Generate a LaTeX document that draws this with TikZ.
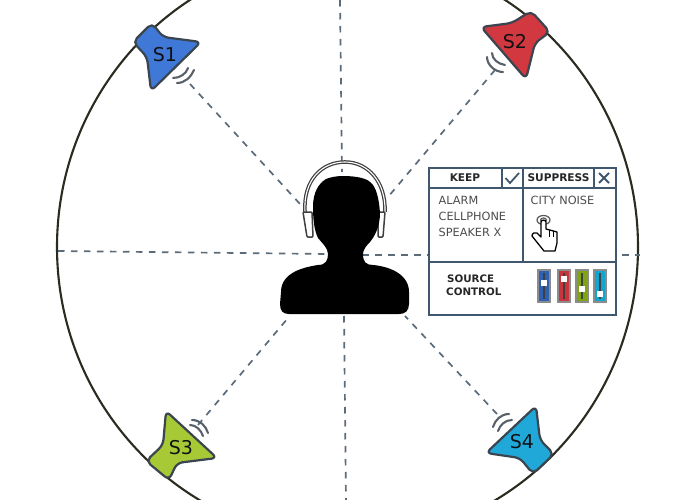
\documentclass[tikz,border=0pt]{standalone}
\usepackage{fontspec}
\setmainfont{DejaVu Sans}
\usepackage{xcolor}
\usetikzlibrary{arrows.meta,calc,positioning}
\definecolor{Slate}{HTML}{3F5870}
\definecolor{Ink}{HTML}{3A4550}
\definecolor{DashGray}{HTML}{5C6B7A}
\definecolor{Rim}{HTML}{2B2B20}
\definecolor{SOne}{HTML}{3F78D6}
\definecolor{STwo}{HTML}{D2383F}
\definecolor{SThree}{HTML}{A6C935}
\definecolor{SFour}{HTML}{1FA8D8}
\definecolor{BarBlue}{HTML}{2F62B0}
\definecolor{BarRed}{HTML}{C8353C}
\definecolor{BarGreen}{HTML}{7FA512}
\definecolor{BarCyan}{HTML}{12A5CF}

\begin{document}
\begin{tikzpicture}[
  x=1pt,y=-1pt,
  rim/.style={draw=Rim,line width=2.1pt},
  guide/.style={draw=DashGray,line width=1.7pt,dash pattern=on 6.5pt off 6.5pt},
  speaker/.style={draw=Ink,line width=2.2pt,rounded corners=5.5pt,line join=round},
  wave/.style={draw=Ink!85,line width=2.1pt,line cap=round},
  sname/.style={font=\fontsize{19}{19}\selectfont,text=black!75!Ink,inner sep=0pt},
  panel/.style={draw=Slate,line width=1.8pt},
  head/.style={font=\bfseries\fontsize{10.6}{11}\selectfont,text=black!85,inner sep=0pt},
  item/.style={font=\fontsize{11.3}{12}\selectfont,text=black!70,inner sep=0pt,anchor=west},
  ctrl/.style={font=\bfseries\fontsize{10.3}{11}\selectfont,text=black!85,inner sep=0pt,anchor=west},
  knob/.style={fill=white,draw=none,minimum width=5.5pt,minimum height=6.5pt,inner sep=0pt}
]
\useasboundingbox (0,0) rectangle (680,500);
\clip (0,0) rectangle (680,500);
\fill[white] (0,0) rectangle (680,500);

% outer ring
\draw[rim] (347.5,247) ellipse (290.5 and 294);

% guide lines
\coordinate (topend) at (340,0);
\coordinate (topin) at (342,172);
\coordinate (botin) at (344,316);
\coordinate (botend) at (346,500);
\coordinate (leftend) at (58,251);
\coordinate (leftin) at (328,254);
\coordinate (rightin) at (362,255);
\coordinate (rightend) at (640,255);
\draw[guide] (topend)--(topin);
\draw[guide] (botin)--(botend);
\draw[guide] (leftend)--(leftin);
\draw[guide] (rightin)--(rightend);

\coordinate (oneout) at (190,84);
\coordinate (onein) at (300,204);
\coordinate (twoout) at (495,70);
\coordinate (twoin) at (388,197);
\coordinate (threeout) at (198,425);
\coordinate (threein) at (288,318);
\coordinate (fourout) at (497,414);
\coordinate (fourin) at (405,316);
\draw[guide] (oneout)--(onein);
\draw[guide] (twoout)--(twoin);
\draw[guide] (threeout)--(threein);
\draw[guide] (fourout)--(fourin);

% speakers
\draw[speaker,fill=SOne] (133,42)--(152,23)--(163,37)--(201,42)--(151,91)--(147,57)--cycle;
\node[sname] (S1) at (165,55) {S1};
\draw[speaker,fill=STwo] (531,11)--(550,32)--(535,43)--(526,79)--(481,27)--(512,23)--cycle;
\node[sname] (S2) at (515,42) {S2};
\draw[speaker,fill=SThree] (146,461)--(169,480)--(177,463)--(217,458)--(166,411)--(163,445)--cycle;
\node[sname] (S3) at (181,448) {S3};
\draw[speaker,fill=SFour] (554,454)--(533,474)--(520,458)--(486,453)--(536,406)--(540,440)--cycle;
\node[sname] (S4) at (522,442) {S4};

% sound waves
\draw[wave] (173,78) .. controls (180,78) and (186,74) .. (188,68);
\draw[wave] (177,83) .. controls (185,83) and (191,77) .. (194,70);
\draw[wave] (492,53) .. controls (492,59) and (498,64) .. (505,65);
\draw[wave] (487,57) .. controls (487,65) and (495,72) .. (503,72);
\draw[wave] (192,420) .. controls (200,420) and (206,426) .. (208,433);
\draw[wave] (190,425) .. controls (196,425) and (201,430) .. (203,436);
\draw[wave] (509,414) .. controls (501,414) and (495,420) .. (493,427);
\draw[wave] (512,420) .. controls (505,420) and (500,425) .. (498,431);

% headphones and listener
\draw[draw=black!75,line width=3.6pt] (305,212) .. controls (303,180) and (322,162) .. (345,162)
  .. controls (368,162) and (386,182) .. (385,212);
\draw[draw=white,line width=1.1pt] (305,212) .. controls (303,180) and (322,162) .. (345,162)
  .. controls (368,162) and (386,182) .. (385,212);
\draw[fill=white,draw=black!75,line width=1.5pt,rounded corners=1pt] (303,212)--(312,212)--(313,237)--(307,237)--cycle;
\draw[fill=white,draw=black!75,line width=1.5pt,rounded corners=1pt] (385,212)--(378,212)--(378,237)--(383,237)--cycle;
\fill[black] (343,176) .. controls (355,176) and (366,178) .. (370,182)
  .. controls (376,186) and (379,198) .. (380,213)
  .. controls (380,226) and (375,236) .. (370,242)
  .. controls (366,246) and (363,250) .. (363,254)
  .. controls (363,262) and (366,265) .. (373,265)
  .. controls (385,266) and (409,272) .. (409,292)
  -- (409,304) .. controls (409,311) and (405,314) .. (399,314)
  -- (289,314) .. controls (283,314) and (280,311) .. (280,304)
  -- (281,292) .. controls (281,272) and (305,267) .. (318,265)
  .. controls (326,265) and (328,260) .. (328,254)
  .. controls (328,248) and (322,243) .. (318,238)
  .. controls (314,230) and (313,218) .. (313,207)
  .. controls (313,193) and (318,184) .. (326,179)
  .. controls (331,177) and (337,176) .. (343,176) -- cycle;

% control panel
\fill[white] (429,168) rectangle (616,315);
\draw[panel] (429,168) rectangle (616,315);
\draw[panel] (429,188)--(616,188);
\draw[panel] (429,262)--(616,262);
\draw[panel] (523,168)--(523,262);
\draw[panel] (502,168)--(502,188);
\draw[panel] (594,168)--(594,188);
\node[head] (keep) at (465,178) {KEEP};
\node[head] (suppress) at (558.5,178) {SUPPRESS};
\draw[Slate,line width=1.8pt] (505.5,178) -- (510,183) -- (519,173);
\draw[Slate,line width=1.9pt] (599,173) -- (609,183);
\draw[Slate,line width=1.9pt] (609,173) -- (599,183);
\node[item] (alarm) at (438.5,200) {ALARM};
\node[item] (cellphone) at (438.5,216) {CELLPHONE};
\node[item] (speakerx) at (438.5,232) {SPEAKER X};
\node[item] (citynoise) at (530.5,200) {CITY NOISE};
\node[ctrl] (source) at (447,279) {SOURCE};
\node[ctrl] (control) at (446,292) {CONTROL};

% pointer
\draw[black!65,line width=1.2pt] (543.5,220) ellipse (6.5 and 4.5);
\draw[black!65,line width=1.2pt] (543.5,220) ellipse (3 and 2);
\draw[fill=white,draw=black,line width=1.3pt,line join=round] (541,237)--(541,222)
  .. controls (541,219.5) and (546,219.5) .. (546,222)
  --(546,229)--(557,232)--(557,243)--(555,251)--(544,251)--(532,236)
  .. controls (532,233) and (535,232) .. (537,233)--cycle;
\draw[black,line width=.8pt] (549,230)--(549,237);
\draw[black,line width=.8pt] (553,231)--(553,237);

% sliders
\foreach \bx/\kn/\bc in {538/283/BarBlue,558/279/BarRed,576/289/BarGreen,594/294/BarCyan}{
  \draw[fill=\bc,draw=black!45,line width=1.2pt] (\bx,270) rectangle ++(12,32);
  \draw[black!75,line width=1.8pt] ($(\bx,273)+(6,0)$)--($(\bx,299)+(6,0)$);
  \node[knob] at ($(\bx,\kn)+(6,0)$) {};
}
\end{tikzpicture}
\end{document}
